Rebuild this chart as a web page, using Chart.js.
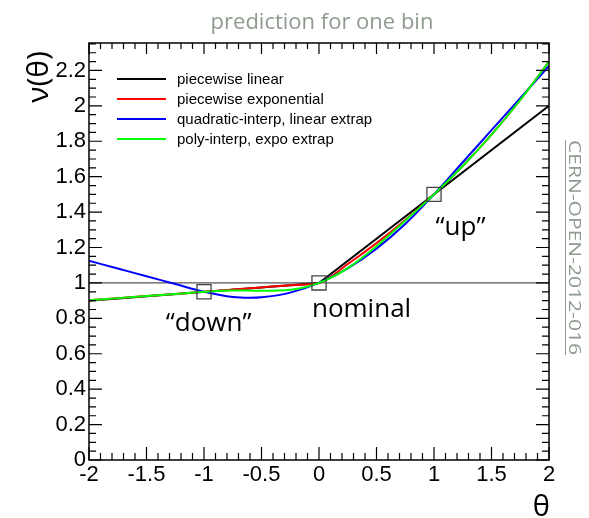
<!DOCTYPE html>
<html><head><meta charset="utf-8">
<script src="https://cdn.jsdelivr.net/npm/chart.js@4/dist/chart.umd.min.js"></script>
<style>html,body{margin:0;padding:0;background:#fff;}#wrap{width:589px;height:518px;position:relative}canvas{display:block}</style>
</head><body><div id="wrap"><canvas id="c" width="589" height="518"></canvas></div>
<script>
// ---- data ----
const thetaGrid = [-2,-1.75,-1.5,-1.25,-1,-0.75,-0.5,-0.25,0,0.25,0.5,0.75,1,1.25,1.5,1.75,2];
const linearX = [-2,0,2];
const linearY = [0.90,1.00,2.00];
const expoY   = [0.9025,0.9142,0.9260,0.9379,0.95,0.9623,0.9747,0.9873,1.0,1.1067,1.2247,1.3554,1.5,1.6600,1.8371,2.0331,2.25];
const quadX   = [-2,-1.75,-1.5,-1.25,-1,-0.75,-0.6,-0.5,-0.25,0,0.25,0.5,0.75,1,1.25,1.5,1.75,2];
const quadY   = [1.125,1.0813,1.0375,0.9938,0.95,0.9203,0.916,0.9188,0.9453,1.0,1.0828,1.1938,1.3328,1.5,1.6813,1.8625,2.0438,2.225];
const polyY   = [0.9025,0.9142,0.9260,0.9379,0.95,0.9578,0.9553,0.9612,1.0,1.0841,1.2076,1.3514,1.5,1.6600,1.8371,2.0331,2.25];
const nominalX = [-2,2];
const nominalY = [1,1];
const markerX = [-1,0,1];
const markerY = [0.95,1.0,1.5];
const seriesNames = ["piecewise linear","piecewise exponential","quadratic-interp, linear extrap","poly-interp, expo extrap"];
const seriesColors = ["#000000","#ff0000","#0000ff","#00ff00"];
const xTicks = [-2,-1.5,-1,-0.5,0,0.5,1,1.5,2];
const yTicks = [0,0.2,0.4,0.6,0.8,1,1.2,1.4,1.6,1.8,2,2.2];
const annotations = [{text:"\u201Cdown\u201D",x:-0.96,y:0.73},{text:"nominal",x:0.37,y:0.81},{text:"\u201Cup\u201D",x:1.23,y:1.27}];
const titleText = "prediction for one bin";
const yTitle = "\u03BD(\u03B8)";
const xTitle = "\u03B8";
const sideText = "CERN-OPEN-2012-016";

const pts = (xs, ys) => xs.map((x,i)=>({x, y: ys[i]}));
const greyGreen = "#8f9b8f";

const decor = {
  id:'decor',
  afterDraw(chart){
    const ctx = chart.ctx, a = chart.chartArea, xs = chart.scales.x, ys = chart.scales.y;
    ctx.save();
    // frame
    ctx.strokeStyle = '#000'; ctx.lineWidth = 1.5;
    ctx.strokeRect(a.left, a.top, a.right-a.left, a.bottom-a.top);
    ctx.lineWidth = 1.2;
    ctx.beginPath();
    for (let i=-20;i<=20;i++){
      const px = xs.getPixelForValue(i/10);
      const len = (i%5===0)?13:7;
      ctx.moveTo(px,a.bottom); ctx.lineTo(px,a.bottom-len);
      const lt = (i%5===0)?11:6;
      ctx.moveTo(px,a.top); ctx.lineTo(px,a.top+lt);
    }
    for (let i=0;i<=47;i++){
      const v = i*0.05; if (v>ys.max) break;
      const py = ys.getPixelForValue(v);
      const len = (i%4===0)?13:7;
      ctx.moveTo(a.left,py); ctx.lineTo(a.left+len,py);
      ctx.moveTo(a.right,py); ctx.lineTo(a.right-len,py);
    }
    ctx.stroke();
    // legend
    ctx.font = '15px "Liberation Sans", Arial, sans-serif';
    ctx.textBaseline = 'middle'; ctx.textAlign = 'left';
    seriesNames.forEach((n,i)=>{
      const y = 79 + i*20;
      ctx.strokeStyle = seriesColors[i]; ctx.lineWidth = 2;
      ctx.beginPath(); ctx.moveTo(117,y); ctx.lineTo(166,y); ctx.stroke();
      ctx.fillStyle = '#000'; ctx.fillText(n, 177, y+1);
    });
    // annotations
    ctx.font = '26px "Open Sans", sans-serif';
    ctx.textAlign = 'center'; ctx.textBaseline = 'alphabetic'; ctx.fillStyle = '#000';
    annotations.forEach(t=>{
      ctx.fillText(t.text, xs.getPixelForValue(t.x), ys.getPixelForValue(t.y));
    });
    // title
    ctx.fillStyle = greyGreen; ctx.font = '22px "Open Sans", sans-serif';
    ctx.textAlign = 'center'; ctx.fillText(titleText, 322, 29);
    // y title
    ctx.fillStyle = '#000'; ctx.font = '30px "Open Sans", sans-serif';
    ctx.save(); ctx.translate(48, 77); ctx.rotate(-Math.PI/2);
    ctx.textAlign='center'; ctx.fillText(yTitle, 0, 0); ctx.restore();
    // x title
    ctx.textAlign = 'right'; ctx.font = '29px "Open Sans", sans-serif';
    ctx.fillText(xTitle, 550, 516);
    // side text
    ctx.save(); ctx.translate(566, 140); ctx.rotate(Math.PI/2);
    ctx.fillStyle = greyGreen; ctx.font = '16px "Open Sans", sans-serif';
    ctx.textAlign = 'left'; ctx.textBaseline = 'alphabetic';
    const w = ctx.measureText(sideText).width;
    ctx.scale(215 / w, 1);
    ctx.fillText(sideText, 0, -3);
    ctx.restore();
    ctx.strokeStyle = greyGreen; ctx.lineWidth = 1;
    ctx.beginPath(); ctx.moveTo(565.5,140); ctx.lineTo(565.5,355); ctx.stroke();
    ctx.restore();
  }
};

const fmt = v => String(Number(Number(v).toFixed(2)));
const tickFont = {family:'"Liberation Sans", Arial, sans-serif', size:22};

new Chart(document.getElementById('c').getContext('2d'), {
  type: 'scatter',
  data: { datasets: [
    {label:'markers', data: pts(markerX, markerY), showLine:false, pointStyle:'rect', pointRadius:10, pointBorderColor:'#444', pointBackgroundColor:'rgba(0,0,0,0)', pointBorderWidth:1.3, order:0},
    {label:seriesNames[3], data: pts(thetaGrid, polyY), showLine:true, borderColor:seriesColors[3], borderWidth:2, pointRadius:0, cubicInterpolationMode:'monotone', order:1},
    {label:seriesNames[2], data: pts(quadX, quadY), showLine:true, borderColor:seriesColors[2], borderWidth:2, pointRadius:0, cubicInterpolationMode:'monotone', order:2},
    {label:seriesNames[1], data: pts(thetaGrid, expoY), showLine:true, borderColor:seriesColors[1], borderWidth:2, pointRadius:0, cubicInterpolationMode:'monotone', order:3},
    {label:seriesNames[0], data: pts(linearX, linearY), showLine:true, borderColor:seriesColors[0], borderWidth:2, pointRadius:0, tension:0, order:4},
    {label:'nominal line', data: pts(nominalX, nominalY), showLine:true, borderColor:'#555', borderWidth:1.3, pointRadius:0, tension:0, order:5}
  ]},
  options: {
    responsive:false, animation:false, devicePixelRatio:1,
    layout:{padding:{left:0, top:43, right:40, bottom:0}},
    plugins:{legend:{display:false}, tooltip:{enabled:false}, title:{display:false}},
    scales:{
      x:{type:'linear', min:-2, max:2,
         grid:{display:false, drawTicks:false}, border:{display:false},
         afterBuildTicks(s){ s.ticks = xTicks.map(v=>({value:v})); },
         ticks:{font:tickFont, color:'#000', padding:2, maxRotation:0, autoSkip:false, callback:v=>fmt(v)},
         afterFit(s){ s.height = 58; }},
      y:{type:'linear', min:0, max:2.355,
         grid:{display:false, drawTicks:false}, border:{display:false},
         afterBuildTicks(s){ s.ticks = yTicks.map(v=>({value:v})); },
         ticks:{font:tickFont, color:'#000', padding:3, autoSkip:false, callback:v=>fmt(v)},
         afterFit(s){ s.width = 89; }}
    }
  },
  plugins:[decor]
});
</script></body></html>
